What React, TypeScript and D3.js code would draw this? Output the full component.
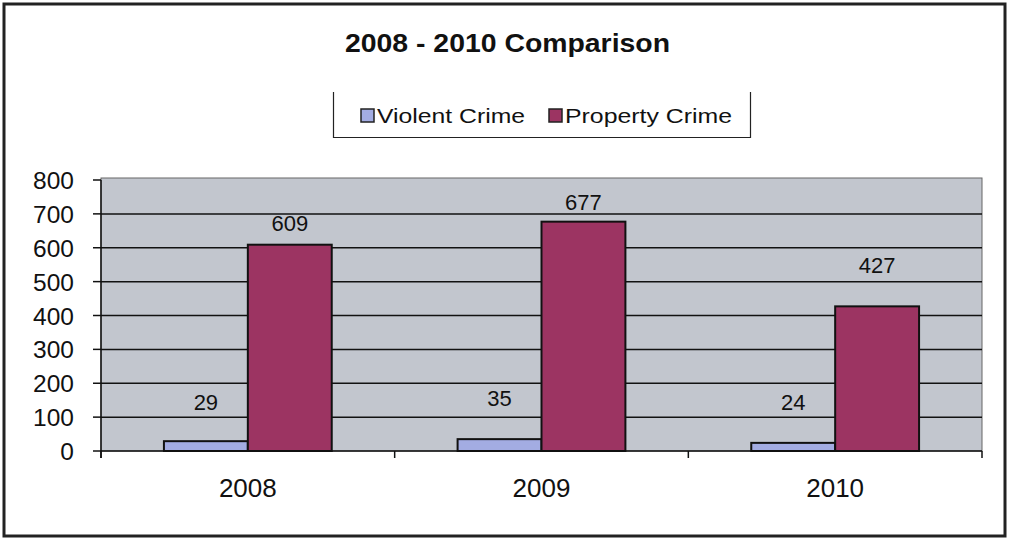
import React from "react";
import * as d3 from "d3";

const years = ["2008", "2009", "2010"];
const seriesNames = ["Violent Crime", "Property Crime"];
const violent = [29, 35, 24];
const property = [609, 677, 427];
const yTicks = [0, 100, 200, 300, 400, 500, 600, 700, 800];
// label anchor heights (in data units) as placed in the reference
const violentLabelAt = [145, 155, 145];
const propertyLabelAt = [672, 735, 549];

const colors = ["#a3ace2", "#9c3462"];
const W = 1009, H = 539;
const plot = { left: 101, right: 982, top: 180, bottom: 451 };
const font = "Liberation Sans, Arial, sans-serif";

export default function App() {
  const x0 = d3.scaleBand().domain(years).range([plot.left, plot.right]).paddingInner(0).paddingOuter(0);
  const x1 = d3.scaleBand().domain(seriesNames).range([0, x0.bandwidth()]).paddingInner(0).paddingOuter(0.75);
  const y = d3.scaleLinear().domain([0, 800]).range([plot.bottom, plot.top]);
  const values = [violent, property];
  const labelAt = [violentLabelAt, propertyLabelAt];
  const boundaries = [...years.map((yr) => x0(yr)!), plot.right];
  const legend = [
    { sx: 361, tx: 377, len: 148 },
    { sx: 549, tx: 565, len: 167 },
  ];

  return (
    <svg width={W} height={H} style={{ position: "absolute", left: 0, top: 0 }} fontFamily={font}>
      <rect x={0} y={0} width={W} height={H} fill="#ffffff" />
      <rect x={4} y={4} width={1001} height={532} fill="none" stroke="#222" strokeWidth={3} />
      <text x={507.5} y={52} textAnchor="middle" fontSize={25} fontWeight="bold" fill="#111"
        textLength={325} lengthAdjust="spacingAndGlyphs">
        2008 - 2010 Comparison
      </text>
      {/* legend */}
      <path d="M333.5,92 V137.5 H750.5 V92" fill="none" stroke="#222" strokeWidth={1.2} />
      {seriesNames.map((s, i) => (
        <g key={s}>
          <rect x={legend[i].sx} y={109} width={13} height={13} fill={colors[i]} stroke="#222" strokeWidth={1.5} />
          <text x={legend[i].tx} y={122.5} fontSize={20.5} fill="#111" textLength={legend[i].len} lengthAdjust="spacingAndGlyphs">{s}</text>
        </g>
      ))}
      {/* plot area */}
      <rect x={plot.left} y={plot.top - 2} width={plot.right - plot.left} height={plot.bottom - plot.top + 2} fill="#c2c6ce" stroke="#666" strokeWidth={1} />
      {yTicks.map((t) => (
        <g key={t}>
          {t > 0 && t < 800 && (
            <line x1={plot.left} x2={plot.right} y1={y(t)} y2={y(t)} stroke="#111" strokeWidth={1.5} />
          )}
          <line x1={plot.left - 8} x2={plot.left} y1={y(t)} y2={y(t)} stroke="#111" strokeWidth={1.5} />
          <text x={74} y={y(t) + 9} textAnchor="end" fontSize={24.5} fill="#111">{t}</text>
        </g>
      ))}
      {/* bars */}
      {years.map((yr, ci) => (
        <g key={yr}>
          {seriesNames.map((s, si) => {
            const v = values[si][ci];
            const bx = x0(yr)! + x1(s)!;
            return (
              <g key={s}>
                <rect x={bx} y={y(v)} width={x1.bandwidth()} height={plot.bottom - y(v)} fill={colors[si]} stroke="#111" strokeWidth={2} />
                <text x={bx + x1.bandwidth() / 2} y={y(labelAt[si][ci]) + 8} textAnchor="middle" fontSize={22} fill="#111">{v}</text>
              </g>
            );
          })}
          <text x={x0(yr)! + x0.bandwidth() / 2} y={497} textAnchor="middle" fontSize={26} fill="#111">{yr}</text>
        </g>
      ))}
      {/* axes */}
      <line x1={plot.left} x2={plot.left} y1={plot.top} y2={plot.bottom + 7} stroke="#111" strokeWidth={1.5} />
      <line x1={plot.left} x2={plot.right} y1={plot.bottom} y2={plot.bottom} stroke="#111" strokeWidth={1.5} />
      {boundaries.map((bx, i) => (
        <line key={i} x1={bx} x2={bx} y1={plot.bottom} y2={plot.bottom + 7} stroke="#111" strokeWidth={1.5} />
      ))}
    </svg>
  );
}
